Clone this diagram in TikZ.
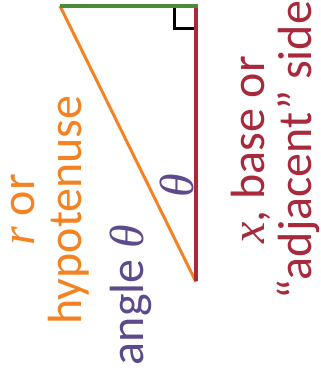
\documentclass[tikz,border=0pt]{standalone}
\usepackage{fontspec}
\setmainfont{Carlito}
\newfontfamily\grk{Liberation Serif}
\newcommand{\vth}{{\grk\itshape θ}}
\newcommand{\vr}{{\grk\itshape r}}
\newcommand{\vx}{{\grk\itshape x}}
\definecolor{cgreen}{HTML}{4E8A3A}
\definecolor{cred}{HTML}{A8283C}
\definecolor{corange}{HTML}{F58220}
\definecolor{cpurple}{HTML}{5C4A8C}
\begin{document}
\begin{tikzpicture}[x=1pt,y=-1pt,
  lbl/.style={rotate=90,align=center,inner sep=0pt,font=\fontsize{48}{47}\selectfont}]
\useasboundingbox (0,0) rectangle (321,378);
\coordinate (A) at (60,6);
\coordinate (B) at (196,6);
\coordinate (C) at (196,282);
\draw[corange,line width=3pt] (A) -- (C);
\draw[black,line width=3pt] (174,6) -- (174,28) -- (196,28);
\draw[cgreen,line width=4pt] (A) -- ([xshift=2pt]B);
\draw[cred,line width=4pt] ([yshift=-2pt]B) -- ([yshift=1pt]C);
\draw[cpurple,line width=3.5pt] ([yshift=-124pt]C) arc[start angle=90,end angle=116.5,radius=124pt];
\node[lbl,text=cpurple] (th) at (177,186) {\vth};
\node[lbl,text=corange] (hyp) at (50,210) {\vr{} or\\hypotenuse};
\node[lbl,text=cpurple] (ang) at (131,295) {angle \vth};
\node[lbl,text=cred] (adj) at (275,150) {\vx, base or\\“adjacent” side};
\end{tikzpicture}
\end{document}
